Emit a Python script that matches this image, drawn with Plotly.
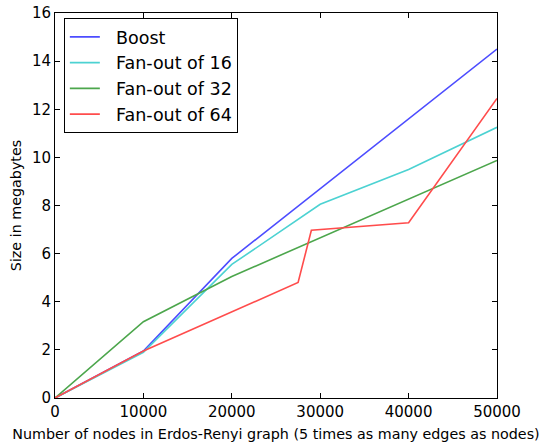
import plotly.graph_objects as go

boost_x = [0, 10000, 20000, 50000]
boost_y = [0, 1.95, 5.8, 14.5]

f16_x = [0, 10000, 20000, 30000, 40000, 50000]
f16_y = [0, 1.9, 5.55, 8.05, 9.5, 11.25]

f32_x = [0, 10000, 20000, 30000, 40000, 50000]
f32_y = [0, 3.17, 5.05, 6.65, 8.25, 9.87]

f64_x = [0, 10000, 27500, 29000, 40000, 50000]
f64_y = [0, 1.95, 4.8, 6.97, 7.28, 12.45]

names = ["Boost", "Fan-out of 16", "Fan-out of 32", "Fan-out of 64"]
colors = ["#4c4cff", "#4cd2d2", "#4ca64c", "#ff4c4c"]

fig = go.Figure()
for i, (xs, ys) in enumerate([(boost_x, boost_y), (f16_x, f16_y), (f32_x, f32_y), (f64_x, f64_y)]):
    pad = "\u00a0\u00a0"
    fig.add_trace(go.Scatter(x=xs, y=ys, mode="lines", name=pad + names[i],
                             line=dict(color=colors[i], width=1.6)))

font = "DejaVu Sans"
axis_common = dict(showline=True, linecolor="black", linewidth=1, mirror="allticks",
                   ticks="inside", ticklen=5, tickcolor="black", showgrid=False,
                   zeroline=False, automargin=False,
                   tickfont=dict(family=font, size=15, color="black"))

fig.update_layout(
    width=550, height=445,
    margin=dict(l=55, r=53, t=13, b=47),
    paper_bgcolor="white", plot_bgcolor="white",
    showlegend=True,
    legend=dict(x=0.02, y=0.987, xanchor="left", yanchor="top",
                bordercolor="black", borderwidth=1, bgcolor="white",
                font=dict(family=font, size=17.5, color="black"),
                itemwidth=30),
    xaxis=dict(range=[0, 50000], tickvals=[0, 10000, 20000, 30000, 40000, 50000],
               ticktext=["0", "10000", "20000", "30000", "40000", "50000"],
               title=dict(text="Number of nodes in Erdos-Renyi graph (5 times as many edges as nodes)",
                          font=dict(family=font, size=14.3, color="black"), standoff=8),
               **axis_common),
    yaxis=dict(range=[0, 16], tickvals=[0, 2, 4, 6, 8, 10, 12, 14, 16],
               title=dict(text="Size in megabytes", font=dict(family=font, size=14.3, color="black"),
                          standoff=6),
               **axis_common),
)

fig.write_html("out.html")
